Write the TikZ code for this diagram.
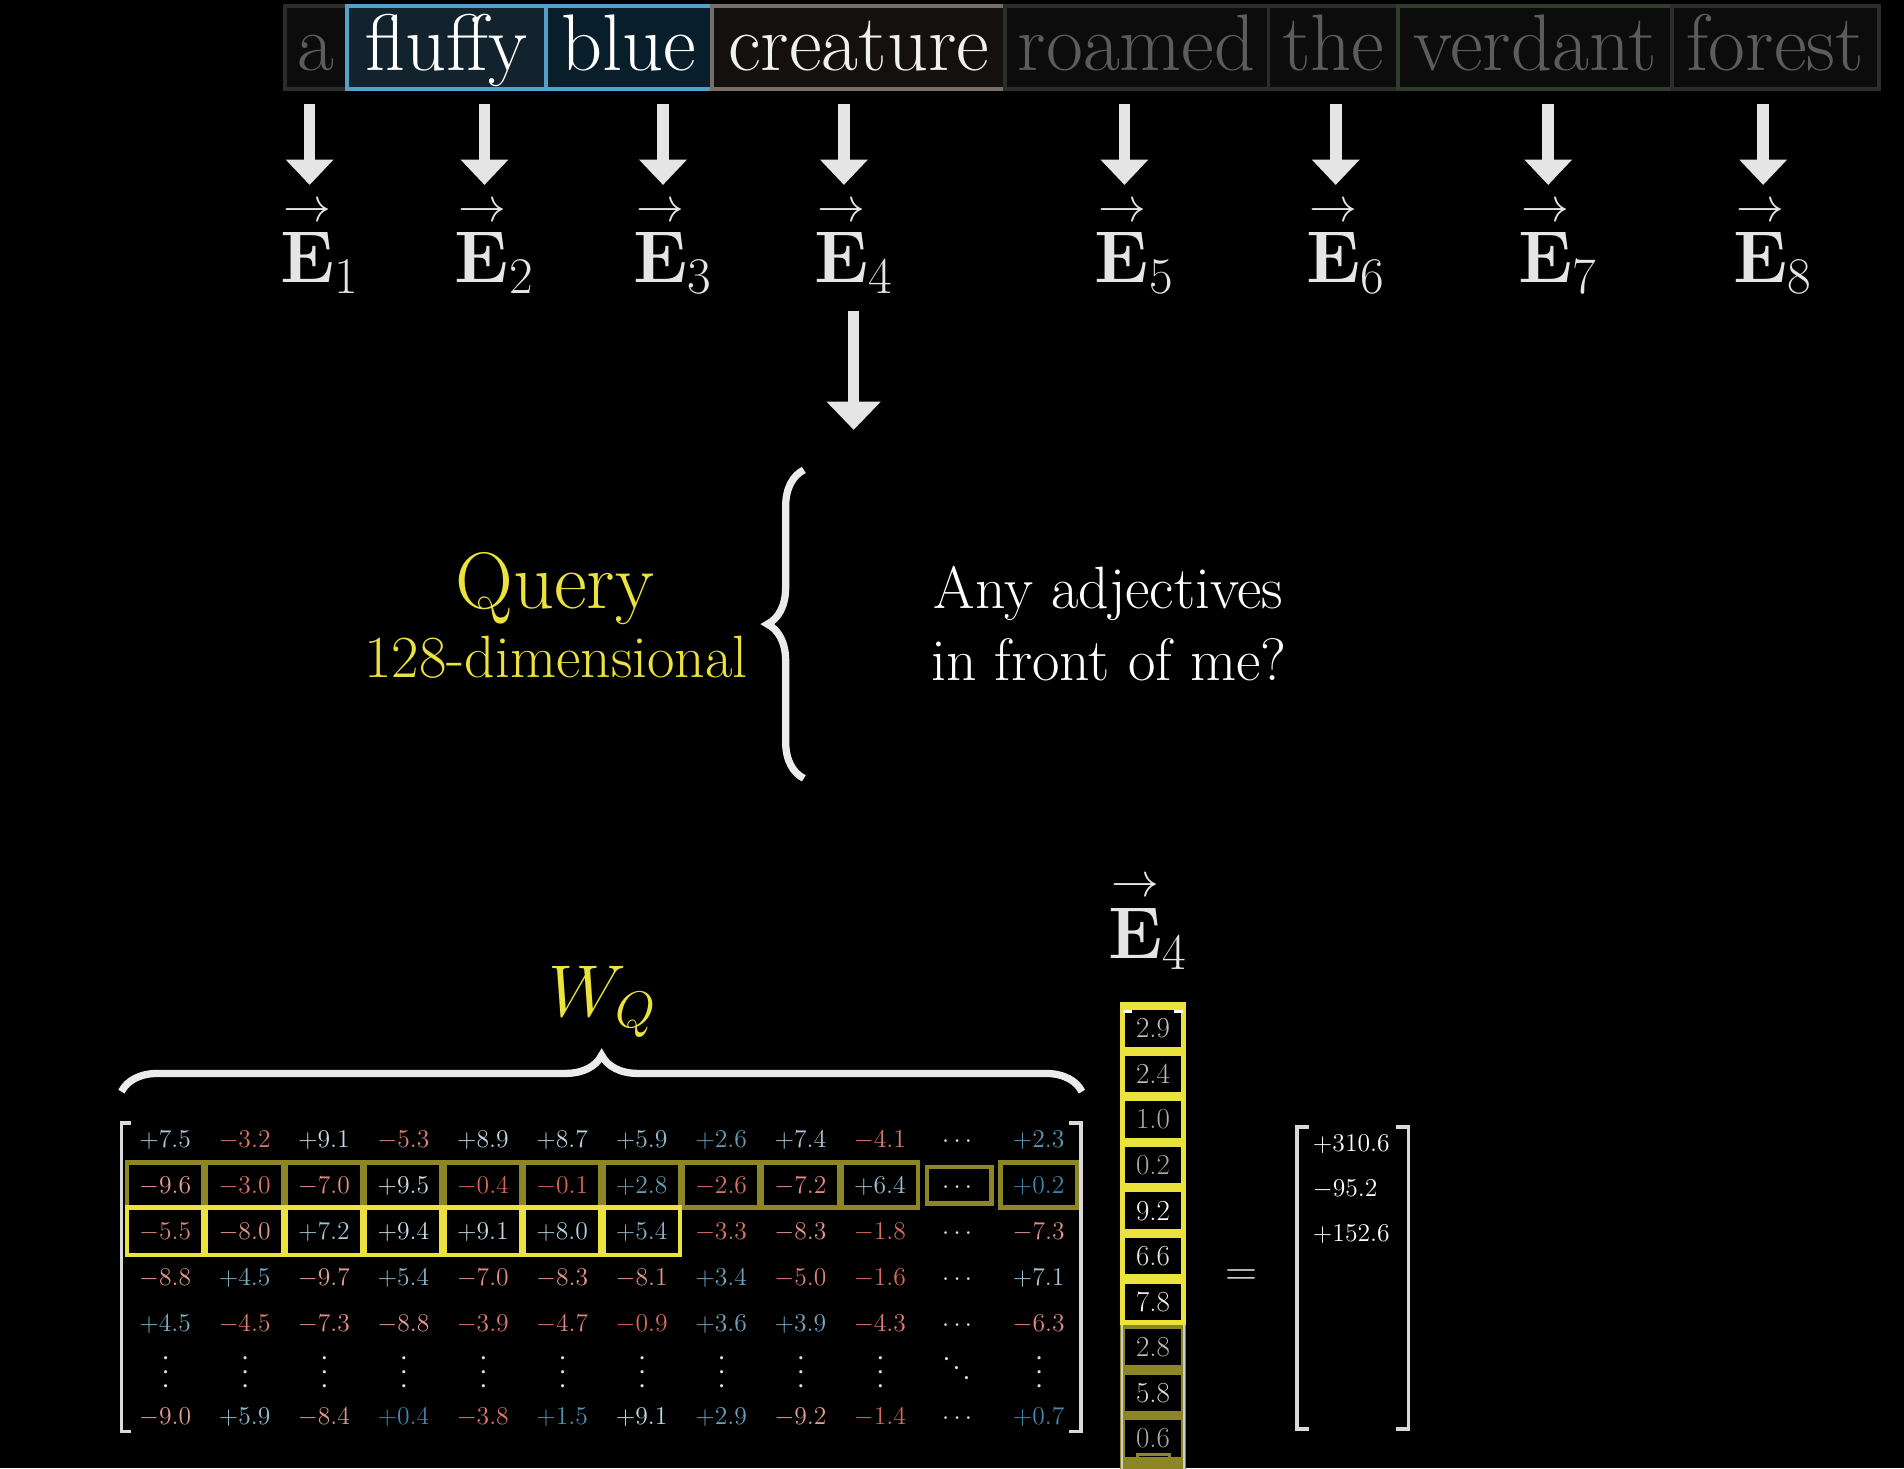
\RequirePackage{fix-cm}
\documentclass[tikz,border=0pt]{standalone}
\usepackage{amsmath}
\usetikzlibrary{arrows.meta, decorations.pathreplacing}

\definecolor{qyellow}{RGB}{236,226,62}
\definecolor{qolive}{RGB}{140,134,36}
\definecolor{qblue}{RGB}{58,132,168}
\definecolor{qred}{RGB}{212,98,82}
\definecolor{wordgray}{RGB}{92,92,92}
\definecolor{edgegray}{RGB}{44,44,44}
\definecolor{boxdark}{RGB}{12,12,12}
\definecolor{edgeblue}{RGB}{84,160,200}
\definecolor{fillteal}{RGB}{18,35,45}
\definecolor{fillnavy}{RGB}{8,30,42}
\definecolor{edgebrown}{RGB}{120,110,105}
\definecolor{fillbrown}{RGB}{20,16,16}
\definecolor{edgegreen}{RGB}{48,60,44}

\newcommand\evec[1]{{\overset{\hbox{\raisebox{1.5pt}[\height][0pt]{\resizebox{28pt}{!}{$\rightarrow$}}}}{\mathbf{E}}}_{#1}}
\newcommand\wqentry[3]{%
  \pgfmathparse{#3>0}%
  \ifdim\pgfmathresult pt>0.5pt
    \pgfmathsetmacro\wqmix{min(72,7.5*abs(#3))}%
    \colorlet{wqcol}{white!\wqmix!qblue}%
    \def\wqsign{+}%
  \else
    \pgfmathsetmacro\wqmix{min(40,4*abs(#3))}%
    \colorlet{wqcol}{white!\wqmix!qred}%
    \def\wqsign{}%
  \fi
  \node[entry, text=wqcol] (m-#1-#2) at ({136+65.4*(#2-1)},{938+38*(#1-1)}) {$\wqsign#3$};%
}

\begin{document}
\begin{tikzpicture}[x=0.25mm, y=-0.25mm,
  word/.style={anchor=west, font=\fontsize{47}{56}\selectfont, line width=0.8mm, inner xsep=0pt, inner ysep=0pt, text height=13.25mm, text depth=3.75mm},
  tokdim/.style={text=wordgray, draw=edgegray, fill=boxdark},
  tokfluffy/.style={text=white, draw=edgeblue, fill=fillteal},
  tokblue/.style={text=white, draw=edgeblue, fill=fillnavy},
  tokcreature/.style={text=white!94!black, draw=edgebrown, fill=fillbrown},
  tokverdant/.style={text=wordgray, draw=edgegreen, fill=boxdark},
  bigarrow/.style={draw=white!90!black, line width=2.4mm, -{Triangle[width=9.5mm, length=5.2mm]}},
  elabel/.style={text=white!90!black, font=\fontsize{43}{50}\selectfont, inner xsep=0pt, inner ysep=3.5mm, anchor=base},
  bracefig/.style={draw=white!92!black, line width=1.5mm, decorate, decoration={brace, amplitude=7.5mm}},
  qtitle/.style={text=qyellow, font=\fontsize{47}{56}\selectfont, anchor=base},
  qsub/.style={text=qyellow, font=\fontsize{35}{42}\selectfont, anchor=base},
  asktext/.style={text=white, font=\fontsize{35}{42}\selectfont, anchor=base west},
  entry/.style={font=\fontsize{15}{18}\selectfont, inner sep=0pt, text height=3.4mm, text depth=0pt},
  dotsent/.style={entry, text=white!88!black},
  dimbox/.style={draw=qolive, line width=0.9mm, minimum width=15.75mm, minimum height=9.25mm},
  hibox/.style={draw=qyellow, line width=0.9mm, minimum width=15.75mm, minimum height=9.75mm},
  mbracket/.style={draw=white!85!black, line width=0.75mm},
  vcell/.style={fill=black, inner sep=0pt, minimum width=11.5mm, minimum height=7.5mm, font=\fontsize{17}{20}\selectfont},
  resent/.style={text=white, font=\fontsize{15}{18}\selectfont, anchor=base west, inner sep=0pt}]
  \useasboundingbox (0,0) rectangle (1568,1209);
  \fill[black] (0,0) rectangle (1568,1209);

  \foreach \tok/\x/\wlen/\sty in {a/233/51/tokdim, fluffy/284/164/tokfluffy, blue/448/137/tokblue, creature/585/241/tokcreature, roamed/826/217/tokdim, the/1043/107/tokdim, verdant/1150/225/tokverdant, forest/1375/171/tokdim}
    \node[word, \sty, minimum width=\wlen*0.25mm] (tok-\tok) at (\x,39) {\tok};

  \foreach \i/\x in {1/255, 2/399, 3/546, 4/695, 5/926, 6/1100, 7/1275, 8/1452} {
    \coordinate (t\i) at (\x,86);
    \node[elabel] (e\i) at (\x+8,233) {$\evec{\i}$};
    \draw[bigarrow] (t\i) -- (t\i |- e\i.north);
  }
  \coordinate (qin) at (703,354);
  \draw[bigarrow, -{Triangle[width=10.8mm, length=5.8mm]}] (e4.south) -- (qin);

  \node[qtitle] (query) at (457,501) {Query};
  \node[qsub] (qdim) at (458,558) {128-dimensional};
  \draw[bracefig] (662,641) -- (662,387);
  \node[asktext] (ask1) at (764,501) {Any adjectives};
  \node[asktext] (ask2) at (762,560) {in front of me?};

  \node[qtitle, font=\fontsize{43}{50}\selectfont] (wq) at (496,837) {$W_Q$};
  \draw[bracefig] (100,899) -- (891,899);

  \foreach \r/\vals/\last in {1/{7.5,-3.2,9.1,-5.3,8.9,8.7,5.9,2.6,7.4,-4.1}/2.3,
      2/{-9.6,-3.0,-7.0,9.5,-0.4,-0.1,2.8,-2.6,-7.2,6.4}/0.2,
      3/{-5.5,-8.0,7.2,9.4,9.1,8.0,5.4,-3.3,-8.3,-1.8}/-7.3,
      4/{-8.8,4.5,-9.7,5.4,-7.0,-8.3,-8.1,3.4,-5.0,-1.6}/7.1,
      5/{4.5,-4.5,-7.3,-8.8,-3.9,-4.7,-0.9,3.6,3.9,-4.3}/-6.3,
      7/{-9.0,5.9,-8.4,0.4,-3.8,1.5,9.1,2.9,-9.2,-1.4}/0.7} {
    \foreach \v [count=\c] in \vals {\wqentry{\r}{\c}{\v}}
    \node[dotsent] (m-\r-11) at ({136+65.4*10},{938+38*(\r-1)}) {$\cdots$};
    \wqentry{\r}{12}{\last}
  }
  \foreach \c in {1,...,10,12}
    \node[dotsent, font=\fontsize{18}{20}\selectfont, rotate=90] (m-6-\c) at ({136+65.4*(\c-1)},1128) {$\cdots$};
  \node[dotsent, font=\fontsize{18}{20}\selectfont, rotate=-45] (m-6-11) at ({136+65.4*10},1128) {$\cdots$};

  \foreach \c in {1,...,10,12}
    \node[dimbox] (d-\c) at (m-2-\c) {};
  \node[dimbox, minimum width=13.25mm, minimum height=7.5mm] (d-11) at (m-2-11) {};
  \foreach \c in {1,...,7}
    \node[hibox] (h-\c) at (m-3-\c) {};

  \draw[mbracket] (108,925) -- (100,925) -- (100,1179) -- (108,1179);
  \draw[mbracket] (880,925) -- (890,925) -- (890,1179) -- (880,1179);

  \node[elabel] (e4v) at (945,789) {$\evec{4}$};
  \fill[qyellow] (922,825) rectangle (977,1091);
  \fill[qolive] (922,1091) rectangle (977,1215);
  \draw[white!80!black, line width=0.4mm] (924,1091) -- (924,1215) (975,1091) -- (975,1215);
  \foreach \v [count=\i] in {2.9,2.4,1.0,0.2,9.2,6.6,7.8,2.8,5.8,0.6} {
    \pgfmathsetmacro\vg{min(100,64+4*\v)}
    \node[vcell, text=white!\vg!black] (v\i) at (949.5,{847+37.5*(\i-1)}) {\v};
  }
  \draw[qolive, line width=0.6mm] (937,1198) rectangle (963,1230);
  \draw[white, line width=0.5mm] (932,833) -- (925,833) (967,833) -- (974,833);

  \node[text=white!90!black, font=\fontsize{26}{30}\selectfont] (eq) at (1022,1052) {$=$};
  \draw[mbracket] (1078,928) -- (1068,928) -- (1068,1177) -- (1078,1177);
  \draw[mbracket] (1150,928) -- (1160,928) -- (1160,1177) -- (1150,1177);
  \foreach \t [count=\i] in {+310.6, -95.2, +152.6}
    \node[resent] (r\i) at (1081,{948+37*(\i-1)}) {$\t$};
\end{tikzpicture}
\end{document}
